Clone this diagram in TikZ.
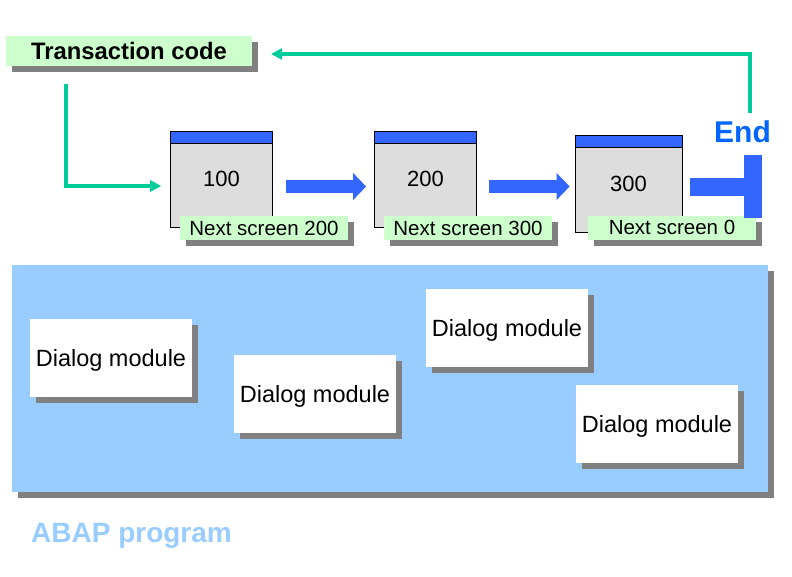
\documentclass[tikz,border=0pt]{standalone}
\usepackage{fontspec}
\setmainfont{Liberation Sans}
\usetikzlibrary{arrows.meta,shadows}
\definecolor{tcgreen}{HTML}{CCFFCC}
\definecolor{linegreen}{HTML}{00CC99}
\definecolor{scrblue}{HTML}{3366FF}
\definecolor{endblue}{HTML}{0066FF}
\definecolor{scrgray}{HTML}{DDDDDD}
\definecolor{progblue}{HTML}{99CCFF}
\definecolor{shadowgray}{HTML}{808080}
\begin{document}
\begin{tikzpicture}[x=1pt,y=-1pt,
  shadowed/.style={drop shadow={shadow xshift=6pt,shadow yshift=-6pt,fill=shadowgray,opacity=1}},
  tcbox/.style={shadowed,fill=tcgreen,minimum width=246pt,minimum height=30pt,inner sep=0pt,font=\fontsize{23.8}{27}\selectfont\bfseries},
  nextlbl/.style={shadowed,fill=tcgreen,minimum width=168pt,minimum height=24pt,inner sep=0pt,font=\fontsize{20.5}{24}\selectfont},
  screen/.style={draw=black,line width=0.8pt,fill=scrgray,minimum width=102pt,minimum height=96pt,inner sep=0pt,font=\fontsize{22}{26}\selectfont,
    path picture={\fill[scrblue] (path picture bounding box.north west) rectangle ([yshift=-12pt]path picture bounding box.north east);
      \draw[line width=0.8pt] ([yshift=-12pt]path picture bounding box.north west) -- ([yshift=-12pt]path picture bounding box.north east);}},
  dlg/.style={shadowed,fill=white,minimum width=162pt,minimum height=78pt,inner sep=0pt,text depth=0pt,font=\fontsize{23.5}{28}\selectfont},
  flow/.style={draw=linegreen,line width=4pt,-{Triangle[length=11pt,width=12pt,line width=0pt]}},
  bigarrow/.style={draw=scrblue,line width=13pt,-{Triangle[length=13pt,width=27pt,line width=0pt]}},
  endarrow/.style={draw=scrblue,line width=18pt,-{Rectangle[length=18pt,width=63pt,line width=0pt]}},
]
\useasboundingbox (0,0) rectangle (792,576);

% ABAP program area
\node[shadowed,fill=progblue,minimum width=756pt,minimum height=227pt,inner sep=0pt] (prog) at (390,378.5) {};
\node[dlg] (d1) at (111,358) {Dialog module};
\node[dlg] (d2) at (315,394) {Dialog module};
\node[dlg] (d3) at (507,328) {Dialog module};
\node[dlg] (d4) at (657,424) {Dialog module};
\node[anchor=base west,inner sep=0pt,text=progblue,font=\fontsize{28}{32}\selectfont\bfseries] (abap) at (31,542) {ABAP program};

% transaction code
\node[tcbox] (tc) at (129,51) {Transaction code};

% screens
\node[screen] (s100) at (221.5,179) {100};
\node[screen] (s200) at (425.5,179) {200};
\node[screen,minimum width=107pt,minimum height=97pt] (s300) at (628.5,183.5) {300};

\node[nextlbl] (n200) at (264,228) {Next screen 200};
\node[nextlbl] (n300) at (468,228) {Next screen 300};
\node[nextlbl] (n0) at (672,227.5) {Next screen 0};

% End
\node[anchor=base,inner sep=0pt,text=endblue,font=\fontsize{30}{34}\selectfont\bfseries] (endlbl) at (742.5,142.5) {End};
\coordinate (endtop) at (750,113);
\coordinate (endbar) at (762,186.5);

% connectors
\draw[flow] (66,84) coordinate (tcout) |- ([xshift=-9pt,yshift=-7pt]s100.west);
\draw[flow] (endtop) |- ([xshift=19pt,yshift=-3pt]tc.east);
\draw[bigarrow] ([xshift=13pt,yshift=-7.5pt]s100.east) -- ([xshift=-8pt,yshift=-7.5pt]s200.west);
\draw[bigarrow] ([xshift=12.5pt,yshift=-7.5pt]s200.east) -- ([xshift=-5pt,yshift=-3pt]s300.west);
\draw[endarrow] ([xshift=8pt,yshift=-3pt]s300.east) -- (endbar);
\end{tikzpicture}
\end{document}
